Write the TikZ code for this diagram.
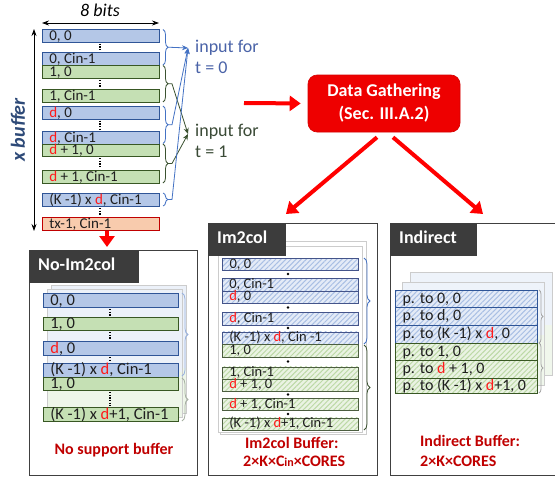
\documentclass[tikz,border=0pt]{standalone}
\usepackage{fontspec}
\setmainfont{Carlito}
\usetikzlibrary{arrows.meta,decorations.pathreplacing,patterns,patterns.meta,calc}
\definecolor{bfill}{HTML}{B4C7E7}
\definecolor{bdr}{HTML}{2F5597}
\definecolor{gfill}{HTML}{C5E0B4}
\definecolor{gdr}{HTML}{385723}
\definecolor{ofill}{HTML}{F8CBAD}
\definecolor{odr}{HTML}{C00000}
\definecolor{hdrc}{HTML}{3C3C3C}
\definecolor{dred}{HTML}{FF1A1A}
\definecolor{tred}{HTML}{C00000}
\definecolor{inblue}{HTML}{4A63A8}
\definecolor{ingreen}{HTML}{3A4A36}
\definecolor{brblue}{HTML}{4472C4}
\definecolor{brgreen}{HTML}{3B5230}
\definecolor{xbuf}{HTML}{2E4A78}
\definecolor{hbbase}{HTML}{E4EBF7}
\definecolor{hbline}{HTML}{A9BFE4}
\definecolor{hgbase}{HTML}{EAF3E3}
\definecolor{hgline}{HTML}{BCD9A6}
\definecolor{hbdr}{HTML}{44548A}
\definecolor{hgdr}{HTML}{4C5E40}
\definecolor{dgred}{HTML}{EE0000}
\newcommand\myfs[1]{\fontsize{#1}{#1}\selectfont}
\newcommand\rd{\textcolor{dred}{d}}
\begin{document}
\begin{tikzpicture}[x=1pt,y=-1pt,
  every node/.style={inner sep=0pt},
  rowtext/.style={execute at begin node={\hbox to #1pt\bgroup}, execute at end node={\hss\egroup}},
  rowbase/.style={anchor=north west, inner xsep=7pt, inner ysep=0pt,
    text height=10.5pt, text depth=1.5pt, text=black!88, line width=0.7pt},
  xrow/.style={rowbase, rowtext=103, font=\myfs{15}},
  p1row/.style={rowbase, rowtext=121, font=\myfs{16.5}, text height=11pt},
  p2row/.style={rowbase, rowtext=122, font=\myfs{14.5}, text height=9.6pt, text depth=1.9pt},
  p3row/.style={rowbase, rowtext=128, font=\myfs{16}, text height=11pt, text depth=3pt, line width=1.1pt},
  bluerow/.style={draw=bdr, fill=bfill},
  greenrow/.style={draw=gdr, fill=gfill},
  orangerow/.style={draw=odr, fill=ofill},
  hbrow/.style={draw=hbdr, preaction={fill=hbbase},
    pattern={Lines[angle=45,distance=3.6pt,line width=1pt]}, pattern color=hbline},
  hgrow/.style={draw=hgdr, preaction={fill=hgbase},
    pattern={Lines[angle=45,distance=3.6pt,line width=1pt]}, pattern color=hgline},
  dotv/.style={line width=1.4pt, dash pattern=on 1.2pt off 1.4pt, shorten <=1.5pt, shorten >=1.5pt},
  mybrace/.style={decorate, decoration={brace, amplitude=#1}, line width=0.8pt},
  conn/.style={line width=0.8pt, -{Stealth[length=6pt,width=5pt]}},
  redarr/.style={draw=red, line width=4pt, -{Triangle[length=11pt,width=15pt]}},
  panel/.style={draw=black!75, line width=0.9pt, fill=white, anchor=north west},
  hdr/.style={anchor=north west, fill=hdrc, draw=hdrc, text=white, font=\bfseries\myfs{18},
    inner xsep=9pt, align=left, text height=12.5pt, text depth=3.5pt, minimum height=32pt},
  redtxt/.style={text=tred, font=\bfseries\myfs{16}},
  sheet/.style={draw=gray!40, line width=0.5pt},
]
\fill[white] (0,0) rectangle (555,479);
\useasboundingbox (0,0) rectangle (555,479);

% ---------------- x buffer ----------------
\node[font=\itshape\myfs{18}] (bits) at (100,10) {8 bits};
\coordinate (bl) at (42,23);
\coordinate (br) at (159,23);
\draw[line width=0.8pt, {Stealth[length=7pt,width=5pt]}-{Stealth[length=7pt,width=5pt]}] (bl) -- (br);
\coordinate (vt) at (34,29);
\coordinate (vb) at (34,231);
\draw[line width=0.8pt, {Stealth[length=7pt,width=5pt]}-{Stealth[length=7pt,width=5pt]}] (vt) -- (vb);
\node[rotate=90, font=\bfseries\itshape\myfs{20}, text=xbuf] (xb) at (18,130) {x buffer};

\node[xrow, bluerow, minimum height=12.5pt] (x1) at (42,29) {0, 0};
\node[xrow, bluerow, minimum height=13pt] (x2) at (42,52) {0, Cin-1};
\node[xrow, greenrow, minimum height=13pt] (x3) at (42,65) {1, 0};
\node[xrow, greenrow, minimum height=13pt] (x4) at (42,89) {1, Cin-1};
\node[xrow, bluerow, minimum height=12.5pt] (x5) at (42,106) {\rd, 0};
\node[xrow, bluerow, minimum height=12.5pt] (x6) at (42,131) {\rd, Cin-1};
\node[xrow, greenrow, minimum height=12.5pt] (x7) at (42,143.5) {\rd{} + 1, 0};
\node[xrow, greenrow, minimum height=13pt] (x8) at (42,170) {\rd{} + 1, Cin-1};
\node[xrow, bluerow, minimum height=13pt] (x9) at (42,193) {(K -1) x \rd, Cin-1};
\node[xrow, orangerow, minimum height=13pt] (x10) at (42,217) {tx-1, Cin-1};

\coordinate (dx) at (100,0);
\draw[dotv] (x1.south -| dx) -- (x2.north -| dx);
\draw[dotv] (x3.south -| dx) -- (x4.north -| dx);
\draw[dotv] (x5.south -| dx) -- (x6.north -| dx);
\draw[dotv] (x7.south -| dx) -- (x8.north -| dx);
\draw[dotv] (x9.south -| dx) -- (x10.north -| dx);

% braces
\draw[mybrace=5pt, brblue] (163,29.5) -- (163,65);
\draw[mybrace=5pt, brgreen] (163,65.5) -- (163,102);
\draw[mybrace=5pt, brblue] (163,106) -- (163,143.5);
\draw[mybrace=5pt, brgreen] (163,144) -- (163,183);
\draw[mybrace=5pt, brblue] (163,193) -- (163,206);
\coordinate (t1) at (168,47.2);
\coordinate (t2) at (168,83.8);
\coordinate (t3) at (168,124.8);
\coordinate (t4) at (168,163.5);
\coordinate (t5) at (168,199.5);
\coordinate (g0) at (188,48);
\coordinate (g1) at (188,134);
\draw[conn, brblue] (t1) -- (g0);
\draw[conn, brgreen] (t2) -- ++(4,0) -- (g1);
\draw[conn, brblue] (t3) -- ++(4,0) -- (g0);
\draw[conn, brgreen] (t4) -- ++(4,0) -- (g1);
\draw[conn, brblue] (t5) -- ++(4,0) -- (g0);

\node[anchor=west, align=left, text=inblue, font=\fontsize{18}{21}\selectfont] (in0) at (195,56.5) {input for\\t = 0};
\node[anchor=west, align=left, text=ingreen, font=\fontsize{18}{21}\selectfont] (in1) at (195,140.5) {input for\\t = 1};

% ---------------- Data gathering ----------------
\node[fill=dgred, draw=dgred!90!black, line width=0.6pt, rounded corners=9pt, minimum width=152pt, minimum height=57pt,
  text=white, font=\bfseries\fontsize{18}{23}\selectfont, align=center] (dg) at (384,103.5) {Data Gathering\\(Sec. III.A.2)};
\coordinate (ra) at (244,103);
\draw[redarr, shorten >=7pt] (ra) -- (dg.west);
\coordinate (e2) at (286,214);
\coordinate (e3) at (483,214);
\draw[redarr] ([xshift=-7pt,yshift=-5pt]dg.south) -- (e2);
\draw[redarr] ([xshift=9pt,yshift=-5pt]dg.south) -- (e3);
\coordinate (a1) at (107,247);
\draw[redarr] (x10.south -| a1) -- (a1);

% ---------------- Panel 1: No-Im2col ----------------
\node[panel, minimum width=168pt, minimum height=225pt] (p1) at (29,250) {};
\foreach \dx/\dy in {8/8, 4/4} {
  \fill[bfill!25] (43+\dx,293-\dy) rectangle (178+\dx,376-\dy);
  \fill[gfill!30] (43+\dx,376-\dy) rectangle (178+\dx,421-\dy);
  \draw[sheet] (43+\dx,293-\dy) rectangle (178+\dx,421-\dy);
}
\node[p1row, bluerow, minimum height=14pt] (q1) at (43,293) {0, 0};
\node[p1row, greenrow, minimum height=13pt] (q2) at (43,317) {1, 0};
\node[p1row, bluerow, minimum height=14pt] (q3) at (43,341) {\rd, 0};
\node[p1row, bluerow, minimum height=13.5pt] (q4) at (43,363) {(K -1) x \rd, Cin-1};
\node[p1row, greenrow, minimum height=13.5pt] (q5) at (43,376.5) {1, 0};
\node[p1row, greenrow, minimum height=14pt] (q6) at (43,407) {(K -1) x \rd+1, Cin-1};
\coordinate (qx) at (110,0);
\draw[dotv] (q1.south -| qx) -- (q2.north -| qx);
\draw[dotv] (q2.south -| qx) -- (q3.north -| qx);
\draw[dotv] (q3.south -| qx) -- (q4.north -| qx);
\draw[dotv] (q5.south -| qx) -- (q6.north -| qx);
\draw[mybrace=6pt, brblue!55] (182,293) -- (182,376);
\draw[mybrace=6pt, brgreen!45] (182,378) -- (182,421);
\node[hdr, text width=91pt] (h1) at (29,250) {No-Im2col};
\node[redtxt] (n1) at (114,450) {No support buffer};

% ---------------- Panel 2: Im2col ----------------
\node[panel, minimum width=169pt, minimum height=252pt] (p2) at (208,223) {};
\draw[sheet, fill=white] (220,241) rectangle (366,434);
\draw[sheet, fill=white] (218,246) rectangle (362,432);
\node[p2row, hbrow, minimum height=12pt] (m1) at (222,258) {0, 0};
\node[p2row, hbrow, minimum height=12.5pt] (m2) at (222,278) {0, Cin-1};
\node[p2row, hbrow, minimum height=12.5pt] (m3) at (222,290.5) {\rd, 0};
\node[p2row, hbrow, minimum height=12.5pt] (m4) at (222,312) {\rd, Cin-1};
\node[p2row, hbrow, minimum height=12.5pt] (m5) at (222,331.5) {(K -1) x \rd, Cin -1};
\node[p2row, hgrow, minimum height=12.5pt] (m6) at (222,344) {1, 0};
\node[p2row, hgrow, minimum height=12pt] (m7) at (222,366.5) {1, Cin-1};
\node[p2row, hgrow, minimum height=12.5pt] (m8) at (222,378.5) {\rd{} + 1, 0};
\node[p2row, hgrow, minimum height=12pt] (m9) at (222,398) {\rd{} + 1, Cin-1};
\node[p2row, hgrow, minimum height=12.5pt] (m10) at (222,417.5) {(K -1) x \rd+1, Cin-1};
\fill (288,274) circle (1.3);
\fill (288,307.5) circle (1.3);
\fill (288,328) circle (1.3);
\fill (288,361.5) circle (1.3);
\fill (288,394.5) circle (1.3);
\fill (288,414) circle (1.3);
\draw[mybrace=6pt, brblue] (364,258) -- (364,344);
\draw[mybrace=6pt, brgreen] (364,345) -- (364,430);
\node[hdr, text width=59pt] (h2) at (208,223) {Im2col};
\node[redtxt, anchor=west] (n2a) at (245,443) {Im2col Buffer:};
\node[redtxt, anchor=west] (n2b) at (243,461.5) {2×K×C{\myfs{12}in}×CORES};

% ---------------- Panel 3: Indirect ----------------
\node[panel, minimum width=166pt, minimum height=252pt] (p3) at (390,223) {};
\foreach \dx/\dy in {15/18, 7/8} {
  \fill[white] (395+\dx,290-\dy) rectangle (537+\dx,393-\dy);
  \fill[bfill!22] (395+\dx,290-\dy) rectangle (537+\dx,343-\dy);
  \fill[gfill!25] (395+\dx,343-\dy) rectangle (537+\dx,393-\dy);
  \draw[sheet] (395+\dx,290-\dy) rectangle (537+\dx,393-\dy);
}
\node[p3row, hbrow, draw=bdr, minimum height=17pt] (k1) at (395,290) {p. to 0, 0};
\node[p3row, hbrow, draw=bdr, minimum height=18pt] (k2) at (395,307) {p. to d, 0};
\node[p3row, hbrow, draw=bdr, minimum height=18pt] (k3) at (395,325) {p. to (K -1) x \rd, 0};
\node[p3row, hgrow, draw=gdr, minimum height=17pt] (k4) at (395,343) {p. to 1, 0};
\node[p3row, hgrow, draw=gdr, minimum height=18pt] (k5) at (395,360) {p. to \rd{} + 1, 0};
\node[p3row, hgrow, draw=gdr, minimum height=15pt] (k6) at (395,378) {p. to (K -1) x \rd+1, 0};
\draw[mybrace=4pt, gray!70] (539,290) -- (539,343);
\draw[mybrace=4pt, gray!70] (539,343) -- (539,393);
\node[hdr, text width=68pt] (h3) at (390,223) {Indirect};
\node[redtxt, anchor=west] (n3a) at (420,441) {Indirect Buffer:};
\node[redtxt, anchor=west] (n3b) at (420,461) {2×K×CORES};
\end{tikzpicture}
\end{document}
